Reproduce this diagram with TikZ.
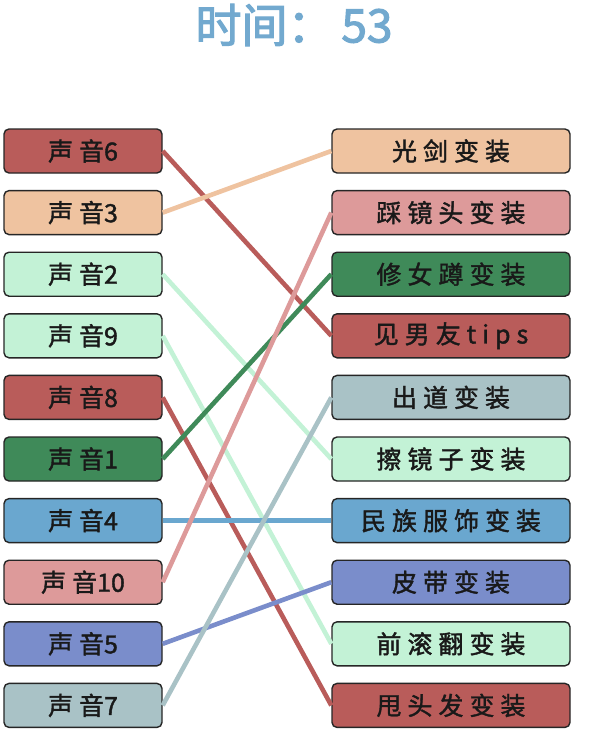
\documentclass[tikz,border=0pt]{standalone}
\usepackage{fontspec}
\setmainfont{Noto Sans CJK SC}
\newfontfamily\boxfont[LetterSpace=24,FakeBold=1.5]{Noto Sans CJK SC}
\newfontfamily\digitfont[FakeBold=1.5]{Noto Sans CJK SC}
\newfontfamily\timerfont[FakeBold=2.5]{Noto Sans CJK SC}
\usetikzlibrary{positioning}

\definecolor{soundred}{HTML}{B95C5A}
\definecolor{soundpeach}{HTML}{EFC3A0}
\definecolor{soundmint}{HTML}{C3F2D6}
\definecolor{soundgreen}{HTML}{3F8A59}
\definecolor{soundblue}{HTML}{6AA7CF}
\definecolor{soundpink}{HTML}{DD9A9A}
\definecolor{soundviolet}{HTML}{7A8DCB}
\definecolor{soundgrey}{HTML}{A9C2C6}
\definecolor{timerblue}{HTML}{72A9CF}

% label of a sound box: the number is set without letter spacing
\newcommand{\soundlabel}[1]{声音{\digitfont #1}}

\tikzset{
  soundbox/.style={draw=black!85, line width=1.4pt, rounded corners=5pt,
    minimum width=158pt, minimum height=44pt, inner sep=0pt,
    text=black!90, font=\boxfont\fontsize{25}{30}\selectfont},
  outfitbox/.style={soundbox, minimum width=238pt},
  link/.style={line width=4.6pt}
}

\begin{document}
\begin{tikzpicture}[x=1pt,y=-1pt]
  \useasboundingbox (0,0) rectangle (598,739);

  % timer on top
  \node[text=timerblue, inner sep=0pt, font=\timerfont\fontsize{46}{50}\selectfont] (timer) at (294,25) {时间：\hspace{8pt}53};

  % sounds, left column
  \node[soundbox, fill=soundred]    (s6)  at (83,151)   {\soundlabel{6}};
  \node[soundbox, fill=soundpeach]  (s3)  at (83,212.6) {\soundlabel{3}};
  \node[soundbox, fill=soundmint]   (s2)  at (83,274.2) {\soundlabel{2}};
  \node[soundbox, fill=soundmint]   (s9)  at (83,335.8) {\soundlabel{9}};
  \node[soundbox, fill=soundred]    (s8)  at (83,397.4) {\soundlabel{8}};
  \node[soundbox, fill=soundgreen]  (s1)  at (83,459)   {\soundlabel{1}};
  \node[soundbox, fill=soundblue]   (s4)  at (83,520.6) {\soundlabel{4}};
  \node[soundbox, fill=soundpink]   (s10) at (83,582.2) {\soundlabel{10}};
  \node[soundbox, fill=soundviolet] (s5)  at (83,643.8) {\soundlabel{5}};
  \node[soundbox, fill=soundgrey]   (s7)  at (83,705.4) {\soundlabel{7}};

  % outfits, right column
  \node[outfitbox, fill=soundpeach]  (saber)   at (451,151)   {光剑变装};
  \node[outfitbox, fill=soundpink]   (lens)    at (451,212.6) {踩镜头变装};
  \node[outfitbox, fill=soundgreen]  (squat)   at (451,274.2) {修女蹲变装};
  \node[outfitbox, fill=soundred]    (tips)    at (451,335.8) {见男友tips};
  \node[outfitbox, fill=soundgrey]   (debut)   at (451,397.4) {出道变装};
  \node[outfitbox, fill=soundmint]   (mirror)  at (451,459)   {擦镜子变装};
  \node[outfitbox, fill=soundblue]   (ethnic)  at (451,520.6) {民族服饰变装};
  \node[outfitbox, fill=soundviolet] (belt)    at (451,582.2) {皮带变装};
  \node[outfitbox, fill=soundmint]   (roll)    at (451,643.8) {前滚翻变装};
  \node[outfitbox, fill=soundred]    (hair)    at (451,705.4) {甩头发变装};

  % matches
  \draw[link, soundred]    (s6.east)  -- (tips.west);
  \draw[link, soundpeach]  (s3.east)  -- (saber.west);
  \draw[link, soundmint]   (s2.east)  -- (mirror.west);
  \draw[link, soundmint]   (s9.east)  -- (roll.west);
  \draw[link, soundred]    (s8.east)  -- (hair.west);
  \draw[link, soundgreen]  (s1.east)  -- (squat.west);
  \draw[link, soundblue]   (s4.east)  -- (ethnic.west);
  \draw[link, soundpink]   (s10.east) -- (lens.west);
  \draw[link, soundviolet] (s5.east)  -- (belt.west);
  \draw[link, soundgrey]   (s7.east)  -- (debut.west);

\end{tikzpicture}
\end{document}
